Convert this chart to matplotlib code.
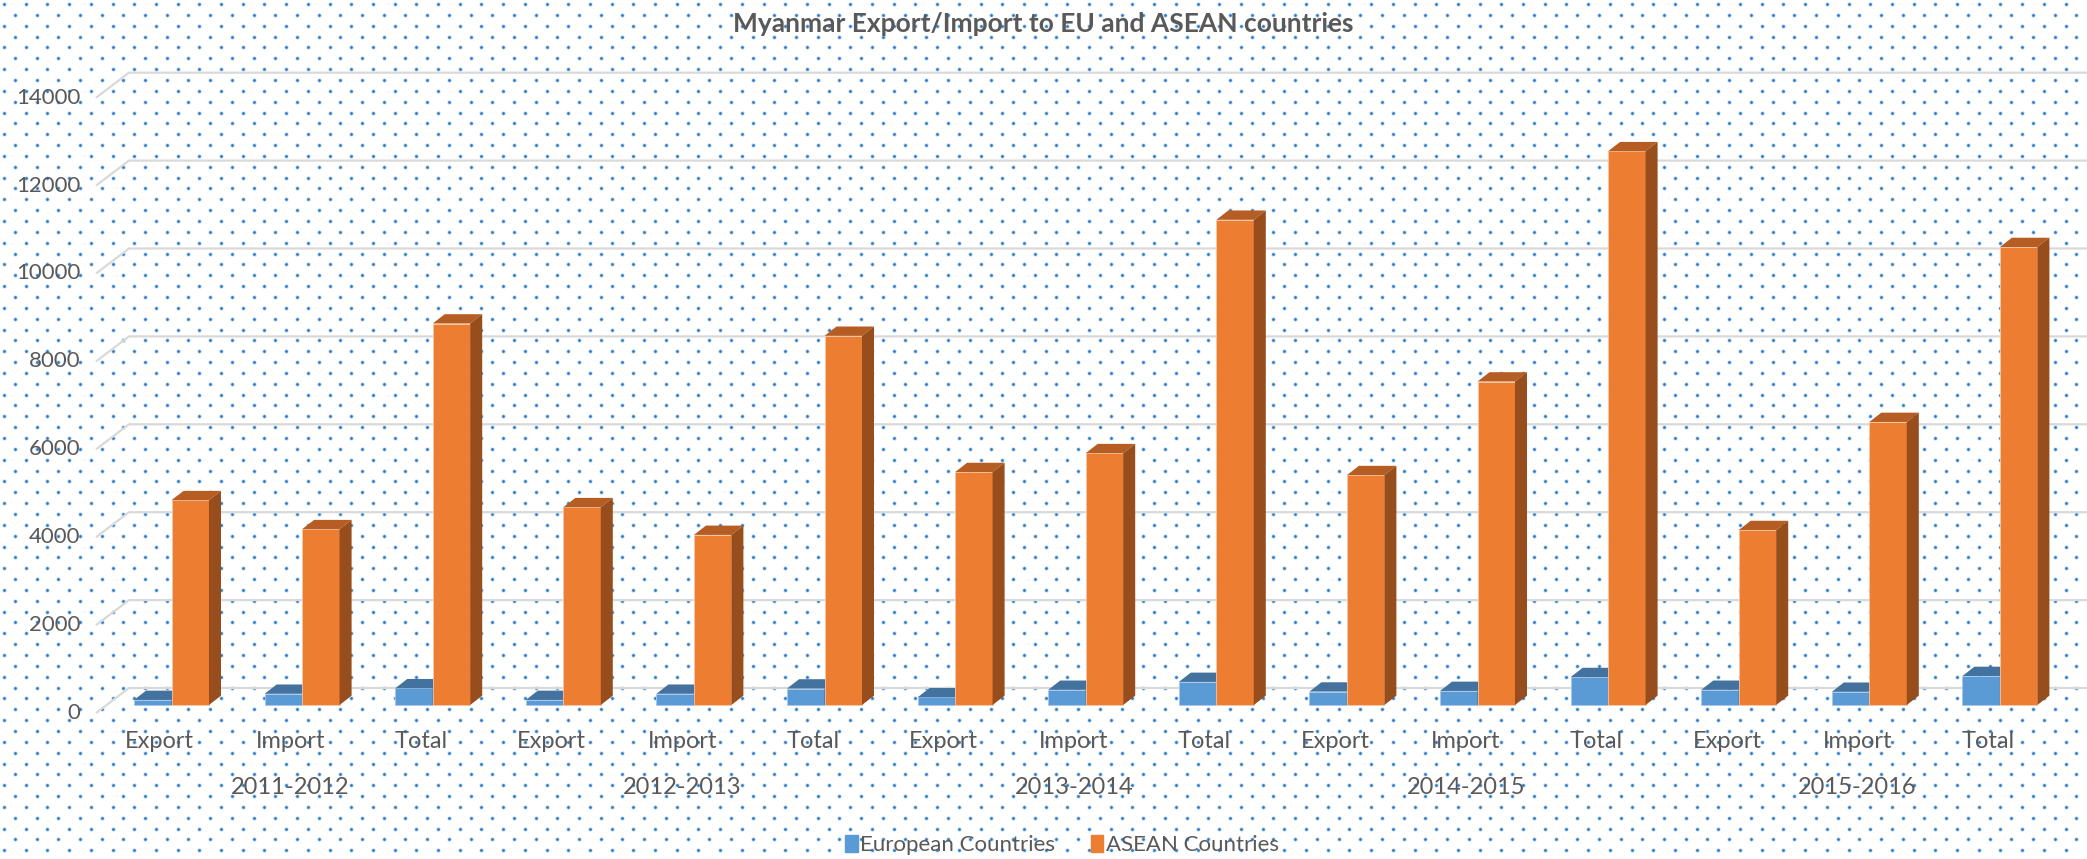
import numpy as np
import matplotlib.pyplot as plt
from matplotlib.patches import Polygon, Patch

# -----------------------
# Data
# -----------------------
years = ["2011-2012", "2012-2013", "2013-2014", "2014-2015", "2015-2016"]
flows = ["Export", "Import", "Total"]
eu_values = [115, 255, 380,
             115, 255, 375,
             175, 345, 525,
             305, 320, 635,
             345, 300, 660]
asean_values = [4660, 4000, 8680,
                4500, 3870, 8400,
                5300, 5730, 11040,
                5230, 7360, 12600,
                3980, 6440, 10420]
y_ticks = [0, 2000, 4000, 6000, 8000, 10000, 12000, 14000]
series_names = ["European Countries", "ASEAN Countries"]

# -----------------------
# Style
# -----------------------
W, H = 2087, 859
FONT = "Lato"
TXT = "#595959"
GRID = "#D9D9D9"
blue = dict(front="#5B9BD5", top="#44729F", side="#3E6790")
orange = dict(front="#ED7D31", top="#B55D22", side="#974D1C")

cat_px0, cat_step = 171.5, 130.6   # pixel x of first category, spacing
zero_px, px_per_unit = 705.0, 87.9 / 2000
bar_w = 0.287                      # in category units
dx, dy = 0.092, 212                # 3D depth offset (cat units, value units)
back_shift, front_shift = 387, -182
x_front, x_back = (96 - cat_px0) / cat_step, (129 - cat_px0) / cat_step

plt.rcParams["font.family"] = [FONT, "DejaVu Sans"]

fig = plt.figure(figsize=(W / 100, H / 100), dpi=100)
fig.patch.set_facecolor("white")

# dotted background pattern
bg = fig.add_axes([0, 0, 1, 1])
bg.set_xlim(0, W); bg.set_ylim(H, 0); bg.axis("off")
step = 10.85
rows = np.arange(4, H, step)
px, py = [], []
for k, yy in enumerate(rows):
    xs = np.arange(4 + (k % 2) * step, W, 2 * step)
    px.extend(xs); py.extend([yy] * len(xs))
bg.scatter(px, py, s=10, color="#C6DDF3", linewidths=0)
bg.scatter(px, py, s=4, color="#2A7BC8", linewidths=0)

# main axes laid over the whole figure
ax = fig.add_axes([0, 0, 1, 1], facecolor="none")
ax.set_xlim(-cat_px0 / cat_step, (W - cat_px0) / cat_step)
ax.set_ylim((zero_px - H) / px_per_unit, zero_px / px_per_unit)
ax.axis("off")

# back wall gridlines + floor stubs
for v in y_ticks:
    ax.plot([x_front, x_back, 20], [v + front_shift, v + back_shift, v + back_shift],
            color=GRID, lw=1.6, solid_capstyle="butt", zorder=1)
    ax.text(x_front - 0.12, v + front_shift, str(v), ha="right", va="center",
            fontsize=16, color=TXT)

x = np.arange(len(eu_values))


def draw_3d(xleft, heights, c):
    ax.bar(xleft, heights, width=bar_w, align="edge", color=c["front"],
           edgecolor="#F6C8A8" if c is orange else "#A9C8EA", linewidth=0.6, zorder=3)
    for x0, h in zip(xleft, heights):
        ax.add_patch(Polygon([(x0, h), (x0 + bar_w, h), (x0 + bar_w + dx, h + dy), (x0 + dx, h + dy)],
                             closed=True, fc=c["top"], ec="none", zorder=3))
        ax.add_patch(Polygon([(x0 + bar_w, 0), (x0 + bar_w + dx, dy), (x0 + bar_w + dx, h + dy), (x0 + bar_w, h)],
                             closed=True, fc=c["side"], ec="none", zorder=3))


draw_3d(x - bar_w, eu_values, blue)
draw_3d(x, asean_values, orange)

# category labels
lab_y = (zero_px - 741) / px_per_unit
year_y = (zero_px - 788) / px_per_unit
for i in x:
    ax.text(i - 0.09, lab_y, flows[i % 3], ha="center", va="center", fontsize=17, color=TXT)
for j, yr in enumerate(years):
    ax.text(3 * j + 1 - 0.09, year_y, yr, ha="center", va="center", fontsize=17, color=TXT)

fig.text(0.5, 1 - 24 / H, "Myanmar Export/Import to EU and ASEAN countries",
         ha="center", va="center", fontsize=19, fontweight="bold", color=TXT)

handles = [Patch(color=blue["front"]), Patch(color=orange["front"])]
fig.legend(handles, series_names, loc="center", bbox_to_anchor=(1062 / W, 1 - 845 / H),
           ncol=2, frameon=False, fontsize=16, handlelength=0.55, handleheight=0.85,
           handletextpad=0.12, columnspacing=1.6, labelcolor=TXT)

fig.savefig("out.png", dpi=100)
